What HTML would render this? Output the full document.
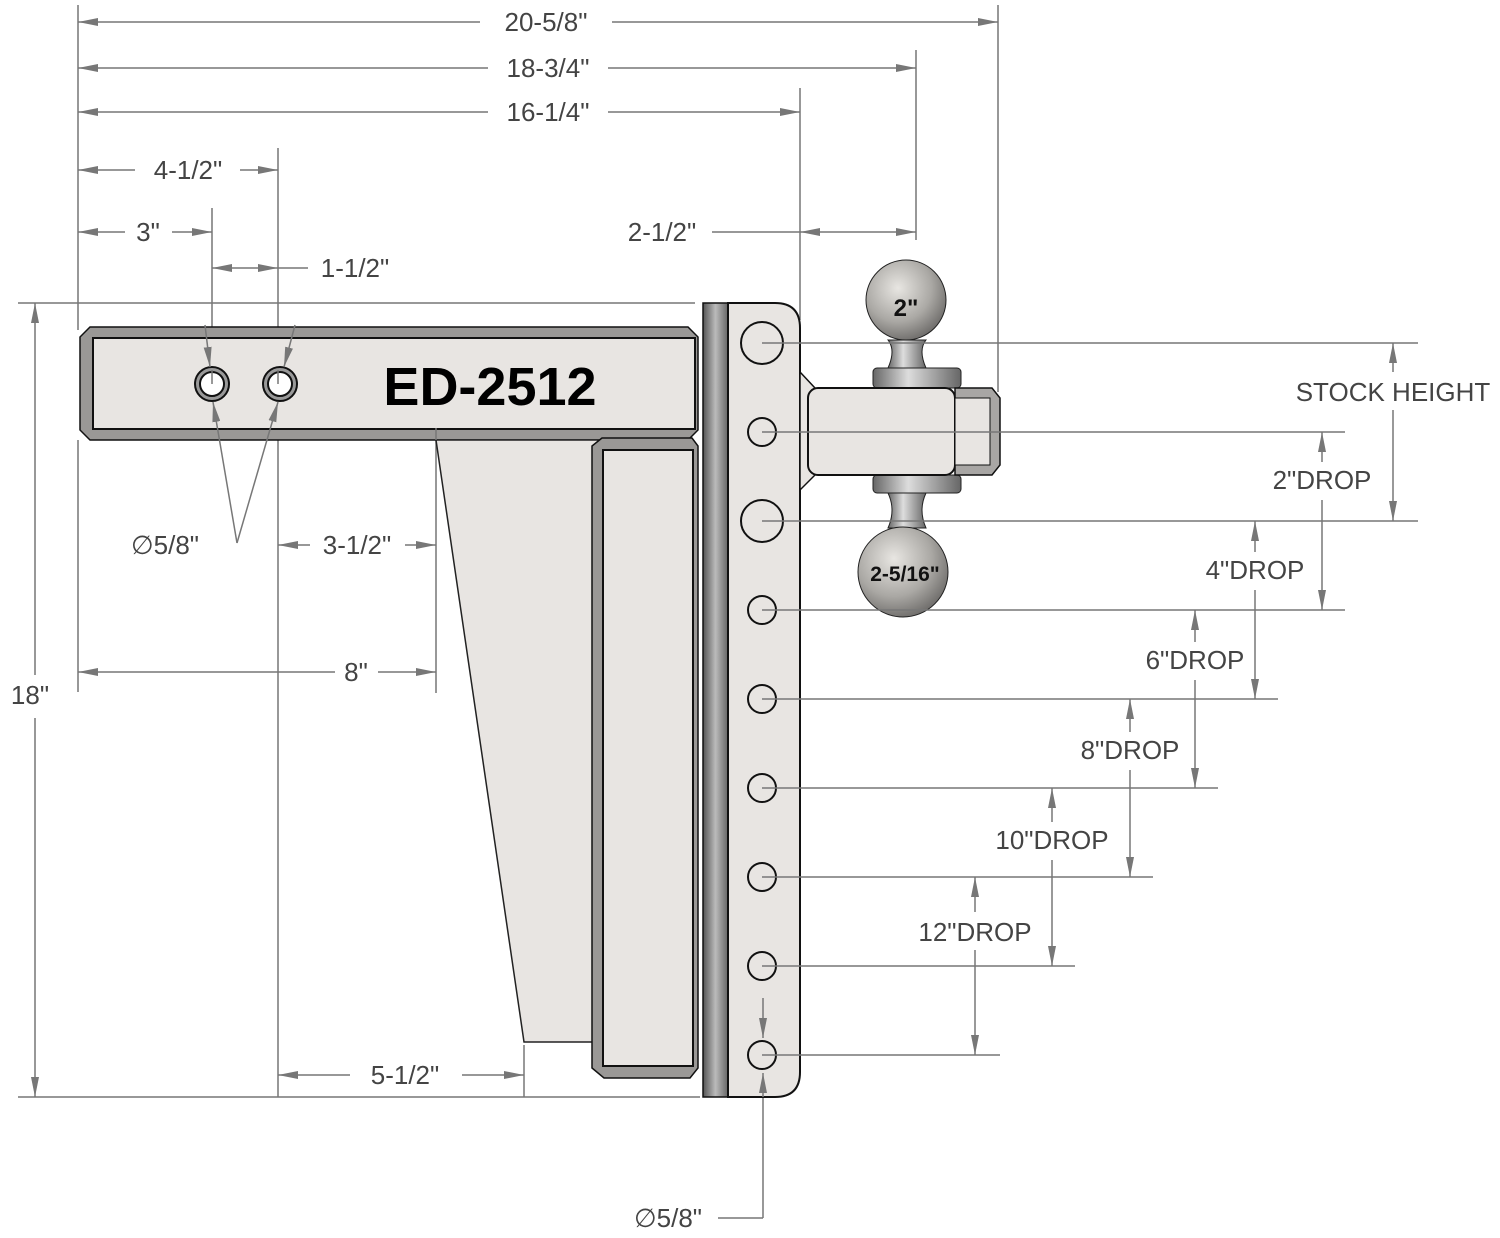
<!DOCTYPE html>
<html><head><meta charset="utf-8"><style>html,body{margin:0;padding:0;background:#fff}svg{display:block}</style></head><body>
<svg width="1500" height="1238" viewBox="0 0 1500 1238" xmlns="http://www.w3.org/2000/svg">
<defs>
<marker id="a" viewBox="0 0 20 8" refX="20" refY="4" markerWidth="20" markerHeight="8" markerUnits="userSpaceOnUse" orient="auto-start-reverse"><path d="M0,0 L20,4 L0,8 Z" fill="#777"/></marker>
<radialGradient id="ball" cx="0.4" cy="0.35" r="0.7"><stop offset="0" stop-color="#e8e6e2"/><stop offset="0.6" stop-color="#aaa8a4"/><stop offset="1" stop-color="#6a6866"/></radialGradient>
<linearGradient id="strip" x1="0" x2="1"><stop offset="0" stop-color="#555"/><stop offset="0.5" stop-color="#bbb"/><stop offset="1" stop-color="#666"/></linearGradient>
<linearGradient id="neck" x1="0" x2="1"><stop offset="0" stop-color="#666"/><stop offset="0.4" stop-color="#ddd"/><stop offset="1" stop-color="#666"/></linearGradient>
</defs>
<g stroke="#777" stroke-width="1.5" fill="none">
<line x1="78" y1="5" x2="78" y2="330"/><line x1="998" y1="5" x2="998" y2="392"/><line x1="916" y1="50" x2="916" y2="240"/><line x1="800" y1="88" x2="800" y2="320"/>
<line x1="278" y1="148" x2="278" y2="1097"/><line x1="212" y1="208" x2="212" y2="370"/>
<line x1="18" y1="303" x2="695" y2="303"/><line x1="18" y1="1097" x2="700" y2="1097"/>
<line x1="78" y1="440" x2="78" y2="692"/><line x1="436" y1="425" x2="436" y2="693"/><line x1="524" y1="1045" x2="524" y2="1097"/>
<line x1="78" y1="22" x2="480" y2="22" marker-start="url(#a)"/><line x1="612" y1="22" x2="998" y2="22" marker-end="url(#a)"/>
<line x1="78" y1="68" x2="488" y2="68" marker-start="url(#a)"/><line x1="608" y1="68" x2="916" y2="68" marker-end="url(#a)"/>
<line x1="78" y1="112" x2="488" y2="112" marker-start="url(#a)"/><line x1="608" y1="112" x2="800" y2="112" marker-end="url(#a)"/>
<line x1="78" y1="170" x2="135" y2="170" marker-start="url(#a)"/><line x1="240" y1="170" x2="278" y2="170" marker-end="url(#a)"/>
<line x1="78" y1="232" x2="125" y2="232" marker-start="url(#a)"/><line x1="172" y1="232" x2="212" y2="232" marker-end="url(#a)"/>
<line x1="212" y1="268" x2="278" y2="268" marker-start="url(#a)" marker-end="url(#a)"/><line x1="278" y1="268" x2="308" y2="268"/>
<line x1="712" y1="232" x2="800" y2="232"/><line x1="800" y1="232" x2="916" y2="232" marker-start="url(#a)" marker-end="url(#a)"/>
<line x1="35" y1="303" x2="35" y2="675" marker-start="url(#a)"/><line x1="35" y1="718" x2="35" y2="1097" marker-end="url(#a)"/>
<line x1="278" y1="545" x2="310" y2="545" marker-start="url(#a)"/><line x1="405" y1="545" x2="436" y2="545" marker-end="url(#a)"/>
<line x1="78" y1="672" x2="335" y2="672" marker-start="url(#a)"/><line x1="378" y1="672" x2="436" y2="672" marker-end="url(#a)"/>
<line x1="278" y1="1075" x2="350" y2="1075" marker-start="url(#a)"/><line x1="462" y1="1075" x2="524" y2="1075" marker-end="url(#a)"/>
<line x1="718" y1="1218" x2="763" y2="1218"/><line x1="763" y1="1218" x2="763" y2="1097"/>
</g>
<!-- shank -->
<polygon points="90,327 688,327 698,337 698,430 688,440 90,440 80,430 80,337" fill="#9a9896" stroke="#111" stroke-width="1.5"/>
<rect x="93" y="338" width="602" height="91" fill="#e8e5e2" stroke="#111" stroke-width="2"/>
<!-- gusset -->
<polygon points="436,440 598,440 598,1042 524,1042" fill="#e8e5e2" stroke="#222" stroke-width="1.5"/>
<!-- vertical bar -->
<polygon points="602,438 692,438 698,446 698,1068 690,1078 604,1078 592,1068 592,446" fill="#9a9896" stroke="#111" stroke-width="1.5"/>
<rect x="603" y="450" width="90" height="616" fill="#e8e5e2" stroke="#111" stroke-width="2"/>
<!-- plate -->
<rect x="703" y="303" width="25" height="794" fill="url(#strip)" stroke="#111" stroke-width="1.5"/>
<path d="M728,303 H775 Q800,303 800,328 V1072 Q800,1097 775,1097 H728 Z" fill="#e8e5e2" stroke="#111" stroke-width="2"/>
<!-- ball mount -->
<polygon points="800,372 815,388 815,475 800,490" fill="#e8e5e2" stroke="#111" stroke-width="1.5"/>
<rect x="873" y="368" width="88" height="20" rx="4" fill="url(#neck)" stroke="#222"/>
<path d="M888,368 Q896,350 888,340 H926 Q918,350 926,368 Z" fill="url(#neck)" stroke="#222"/>
<circle cx="906" cy="300" r="40" fill="url(#ball)" stroke="#222"/>
<rect x="873" y="475" width="88" height="18" rx="4" fill="url(#neck)" stroke="#222"/>
<path d="M888,493 Q896,510 888,528 H926 Q918,510 926,493 Z" fill="url(#neck)" stroke="#222"/>
<circle cx="903" cy="572" r="45" fill="url(#ball)" stroke="#222"/>
<rect x="808" y="388" width="147" height="87" rx="10" fill="#e8e5e2" stroke="#111" stroke-width="2"/>
<polygon points="955,388 992,388 1000,398 1000,465 992,475 955,475" fill="#a8a6a4" stroke="#111" stroke-width="1.5"/>
<rect x="955" y="398" width="35" height="67" fill="#e8e5e2" stroke="#111"/>
<text x="906" y="316" font-family="Liberation Sans,sans-serif" font-weight="bold" font-size="24" text-anchor="middle" fill="#111">2"</text>
<text x="905" y="581" font-family="Liberation Sans,sans-serif" font-weight="bold" font-size="21" text-anchor="middle" fill="#111">2-5/16"</text>
<g stroke="#111" stroke-width="2"><circle cx="212" cy="384" r="17" fill="#999"/><circle cx="212" cy="384" r="12" fill="#fff"/><circle cx="280" cy="384" r="17" fill="#999"/><circle cx="280" cy="384" r="12" fill="#fff"/></g>
<text x="490" y="405" font-family="Liberation Sans,sans-serif" font-weight="bold" font-size="54" text-anchor="middle" fill="#000">ED-2512</text>
<g fill="none" stroke="#111" stroke-width="2"><circle cx="762" cy="343" r="21"/><circle cx="762" cy="432" r="14"/><circle cx="762" cy="521" r="21"/><circle cx="762" cy="610" r="14"/><circle cx="762" cy="699" r="14"/><circle cx="762" cy="788" r="14"/><circle cx="762" cy="877" r="14"/><circle cx="762" cy="966" r="14"/><circle cx="762" cy="1055" r="14"/></g>
<g stroke="#777" stroke-width="1.5" fill="none">
<line x1="205" y1="325" x2="210" y2="367" marker-end="url(#a)"/><line x1="295" y1="325" x2="284" y2="367" marker-end="url(#a)"/>
<line x1="237" y1="543" x2="213" y2="402" marker-end="url(#a)"/><line x1="237" y1="543" x2="278" y2="402" marker-end="url(#a)"/>
<line x1="212" y1="370" x2="212" y2="384"/><line x1="278" y1="370" x2="278" y2="384"/>
<line x1="436" y1="428" x2="436" y2="440"/>
<line x1="763" y1="1097" x2="763" y2="1073" marker-end="url(#a)"/>
<line x1="763" y1="998" x2="763" y2="1038" marker-end="url(#a)"/>
<line x1="762" y1="343" x2="1418" y2="343"/><line x1="762" y1="432" x2="1345" y2="432"/><line x1="762" y1="521" x2="1418" y2="521"/><line x1="762" y1="610" x2="1345" y2="610"/><line x1="762" y1="699" x2="1278" y2="699"/><line x1="762" y1="788" x2="1218" y2="788"/><line x1="762" y1="877" x2="1153" y2="877"/><line x1="762" y1="966" x2="1075" y2="966"/><line x1="762" y1="1055" x2="1000" y2="1055"/>
<line x1="1393" y1="343" x2="1393" y2="372" marker-start="url(#a)"/><line x1="1393" y1="410" x2="1393" y2="521" marker-end="url(#a)"/>
<line x1="1322" y1="432" x2="1322" y2="462" marker-start="url(#a)"/><line x1="1322" y1="500" x2="1322" y2="610" marker-end="url(#a)"/>
<line x1="1255" y1="521" x2="1255" y2="552" marker-start="url(#a)"/><line x1="1255" y1="590" x2="1255" y2="699" marker-end="url(#a)"/>
<line x1="1195" y1="610" x2="1195" y2="642" marker-start="url(#a)"/><line x1="1195" y1="680" x2="1195" y2="788" marker-end="url(#a)"/>
<line x1="1130" y1="699" x2="1130" y2="732" marker-start="url(#a)"/><line x1="1130" y1="770" x2="1130" y2="877" marker-end="url(#a)"/>
<line x1="1052" y1="788" x2="1052" y2="822" marker-start="url(#a)"/><line x1="1052" y1="860" x2="1052" y2="966" marker-end="url(#a)"/>
<line x1="975" y1="877" x2="975" y2="912" marker-start="url(#a)"/><line x1="975" y1="950" x2="975" y2="1055" marker-end="url(#a)"/>
</g>
<g font-family="Liberation Sans,sans-serif" font-size="26" fill="#444" text-anchor="middle">
<text x="546" y="31">20-5/8"</text><text x="548" y="77">18-3/4"</text><text x="548" y="121">16-1/4"</text>
<text x="188" y="179">4-1/2"</text><text x="148" y="241">3"</text><text x="355" y="277">1-1/2"</text><text x="662" y="241">2-1/2"</text>
<text x="30" y="704">18"</text><text x="357" y="554">3-1/2"</text><text x="165" y="554">∅5/8"</text><text x="356" y="681">8"</text><text x="405" y="1084">5-1/2"</text>
<text x="668" y="1227">∅5/8"</text>
<text x="1393" y="401">STOCK HEIGHT</text><text x="1322" y="489">2"DROP</text><text x="1255" y="579">4"DROP</text><text x="1195" y="669">6"DROP</text><text x="1130" y="759">8"DROP</text><text x="1052" y="849">10"DROP</text><text x="975" y="941">12"DROP</text>
</g>
</svg>
</body></html>
